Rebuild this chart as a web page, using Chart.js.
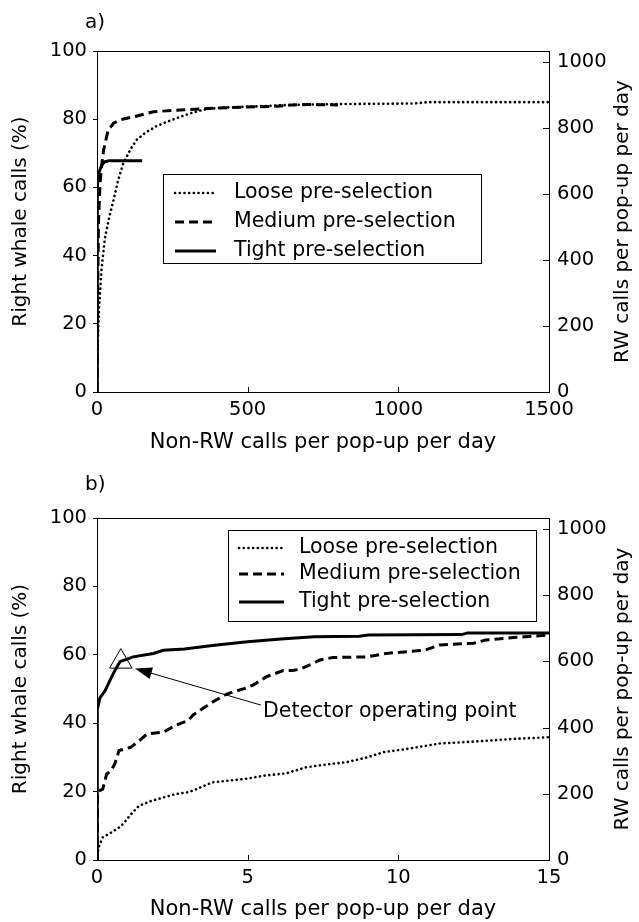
<!DOCTYPE html>
<html>
<head>
<meta charset="utf-8">
<script src="https://cdn.jsdelivr.net/npm/chart.js@4.4.1/dist/chart.umd.min.js"></script>
<style>
  html, body { margin: 0; padding: 0; background: #fff; }
  .panel { position: relative; width: 639px; height: 461px; }
  canvas { display: block; }
</style>
</head>
<body>
<div class="panel"><canvas id="panelA" width="639" height="461"></canvas></div>
<div class="panel"><canvas id="panelB" width="639" height="461"></canvas></div>
<script>
const FONT = '"DejaVu Sans", sans-serif';
const seriesLabels = ['Loose pre-selection', 'Medium pre-selection', 'Tight pre-selection'];

// panel a: [non-RW calls per pop-up per day, right whale calls %]
const looseA = [[0,0],[1,8],[3,16],[7,25],[15,36],[26,45],[40,51],[54,56],[70,62],[87,67],[110,71],[132,74],[160,76],[198,78],[240,79.5],[276,80.7],[320,82],[364,83],[420,83.4],[475,83.6],[540,83.8],[608,84.1],[700,84.3],[762,84.4],[900,84.5],[1050,84.6],[1100,85],[1500,85]];
const mediumA = [[0,0],[1,20],[5,50],[10,61],[15,66],[22,71],[37,76.8],[55,78.8],[76,79.8],[121,80.7],[187,82.2],[276,82.7],[387,83.2],[498,83.6],[600,83.8],[650,84.2],[700,84.3],[800,84.2]];
const tightA = [[0,0],[0.1,47],[0.8,58],[2,60],[5,64],[15,66.4],[25,67.5],[40,67.8],[150,67.8]];

// panel b: zoom on 0-15 non-RW calls
const looseB = [[0,0],[0.05,3.6],[0.19,6.6],[0.46,8],[0.73,9.5],[0.86,10.5],[1.13,13.4],[1.4,15.9],[1.81,17.3],[2.21,18.3],[2.62,19.3],[3.02,19.8],[3.29,20.7],[3.83,22.7],[4.37,23.2],[4.91,23.7],[5.58,24.7],[6.26,25.3],[6.93,27.1],[7.6,27.9],[8.28,28.6],[8.96,30],[9.5,31.5],[10.3,32.5],[11,33.5],[11.4,34.1],[12.06,34.4],[13,34.9],[13.8,35.4],[15,35.9]];
const mediumB = [[0,0],[0.02,20],[0.19,20.7],[0.32,25.1],[0.46,26.1],[0.59,28.1],[0.73,32],[1.13,33],[1.4,34.9],[1.67,36.9],[2.21,37.4],[2.64,39.5],[3.02,40.8],[3.2,42.5],[3.86,46.3],[4.3,48.5],[4.91,50.2],[5.19,51.2],[5.63,53.6],[6.18,55.4],[6.5,55.4],[6.74,55.8],[7.18,57.5],[7.4,58.5],[7.83,59.2],[8.95,59.4],[9.6,60.4],[10.9,61.4],[11.38,62.9],[12.5,63.4],[12.9,64.3],[13.93,65.1],[15,65.8]];
const tightB = [[0,0],[0.01,44],[0.1,47.5],[0.27,49.5],[0.43,52.5],[0.6,55.5],[0.76,58],[1.2,59.4],[1.87,60.4],[2.2,61.3],[2.9,61.7],[3.9,62.8],[5,63.8],[6.1,64.6],[7.2,65.3],[8.7,65.4],[9,65.8],[12.1,65.9],[12.3,66.4],[15,66.4]];

const operatingPoint = [0.79, 58];
const arrowTip = [1.26, 56];
const arrowTail = [5.44, 45.3];
const annotationAt = [5.51, 43.3];
const annotationText = 'Detector operating point';

const xTicksA = [0, 500, 1000, 1500];
const xTicksB = [0, 5, 10, 15];
const yTicks = [0, 20, 40, 60, 80, 100];
const rwTicks = [0, 200, 400, 600, 800, 1000];
const rwTotal = 1033; // RW calls per pop-up per day at 100 %

const lineStyles = [
    { borderDash: [0.1, 4.6], borderWidth: 2.6, borderCapStyle: 'round' },
    { borderDash: [9, 5], borderWidth: 3, borderCapStyle: 'butt' },
    { borderDash: [], borderWidth: 3, borderCapStyle: 'butt' }
];

Chart.defaults.font.family = FONT;
Chart.defaults.color = '#000';

function makeDatasets(series) {
    return series.map((pts, i) => ({
        label: seriesLabels[i],
        data: pts.map(([x, y]) => ({ x, y })),
        borderColor: '#000',
        pointRadius: 0,
        fill: false,
        tension: 0,
        ...lineStyles[i]
    }));
}

const setTicks = values => s => { s.ticks = values.map(v => ({ value: v })); };
const plainLabel = v => String(v);

const decorPlugin = {
    id: 'decor',
    afterDraw(chart, args, opts) {
        const { ctx, chartArea: ca, scales } = chart;
        ctx.save();
        ctx.strokeStyle = '#000';
        ctx.fillStyle = '#000';
        ctx.lineWidth = 1;

        // top of the frame
        const top = Math.round(ca.top) + 0.5;
        ctx.beginPath();
        ctx.moveTo(ca.left, top);
        ctx.lineTo(ca.right, top);
        ctx.stroke();

        // inward ticks on bottom and right axes
        ctx.beginPath();
        scales.x.ticks.forEach(t => {
            const px = Math.round(scales.x.getPixelForValue(t.value)) + 0.5;
            ctx.moveTo(px, ca.bottom);
            ctx.lineTo(px, ca.bottom - 5);
        });
        scales.y2.ticks.forEach(t => {
            const py = Math.round(scales.y2.getPixelForValue(t.value)) + 0.5;
            ctx.moveTo(ca.right, py);
            ctx.lineTo(ca.right - 6, py);
        });
        ctx.stroke();

        // right axis title, reading bottom to top
        ctx.font = '20px ' + FONT;
        ctx.textAlign = 'center';
        ctx.textBaseline = 'middle';
        ctx.save();
        ctx.translate(opts.rightTitleX, (ca.top + ca.bottom) / 2);
        ctx.rotate(-Math.PI / 2);
        ctx.fillText('RW calls per pop-up per day', 0, 0);
        ctx.restore();

        // panel letter
        ctx.textAlign = 'left';
        ctx.fillText(opts.panel, 85, opts.panelY);

        // legend box
        const lg = opts.legend;
        ctx.fillStyle = '#fff';
        ctx.fillRect(lg.left, lg.top, lg.width, lg.height);
        ctx.strokeRect(lg.left + 0.5, lg.top + 0.5, lg.width, lg.height);
        ctx.fillStyle = '#000';
        ctx.font = '20.5px ' + FONT;
        seriesLabels.forEach((label, i) => {
            const ds = chart.data.datasets[i];
            const y = lg.top + lg.rows[i];
            ctx.save();
            ctx.lineWidth = ds.borderWidth;
            ctx.lineCap = ds.borderCapStyle;
            ctx.setLineDash(ds.borderDash);
            ctx.beginPath();
            ctx.moveTo(lg.left + lg.sample[0], y);
            ctx.lineTo(lg.left + lg.sample[1], y);
            ctx.stroke();
            ctx.restore();
            ctx.fillText(label, lg.left + lg.textX, y);
        });

        // operating point annotation
        const an = opts.annotation;
        if (an) {
            const xs = scales.x, ys = scales.y;
            const tx = xs.getPixelForValue(an.tip[0]), ty = ys.getPixelForValue(an.tip[1]);
            const sx = xs.getPixelForValue(an.tail[0]), sy = ys.getPixelForValue(an.tail[1]);
            const ang = Math.atan2(ty - sy, tx - sx);
            const L = 17, W = 6;
            ctx.beginPath();
            ctx.moveTo(sx, sy);
            ctx.lineTo(tx - 10 * Math.cos(ang), ty - 10 * Math.sin(ang));
            ctx.stroke();
            ctx.beginPath();
            ctx.moveTo(tx, ty);
            ctx.lineTo(tx - L * Math.cos(ang) + W * Math.sin(ang), ty - L * Math.sin(ang) - W * Math.cos(ang));
            ctx.lineTo(tx - L * Math.cos(ang) - W * Math.sin(ang), ty - L * Math.sin(ang) + W * Math.cos(ang));
            ctx.closePath();
            ctx.fill();
            ctx.textAlign = 'left';
            ctx.fillText(an.text, xs.getPixelForValue(an.at[0]), ys.getPixelForValue(an.at[1]));
        }
        ctx.restore();
    }
};

function makeChart(id, cfg) {
    return new Chart(document.getElementById(id), {
        type: 'line',
        data: { datasets: cfg.datasets },
        options: {
            responsive: false,
            devicePixelRatio: 1,
            animation: false,
            layout: { padding: { top: cfg.padTop, left: 0, right: 0, bottom: 0 } },
            plugins: {
                legend: { display: false },
                tooltip: { enabled: false },
                decor: cfg.decor
            },
            scales: {
                x: {
                    type: 'linear',
                    min: 0,
                    max: cfg.xTicks[cfg.xTicks.length - 1],
                    afterBuildTicks: setTicks(cfg.xTicks),
                    ticks: { padding: 6, maxRotation: 0, font: { size: 19.5 }, color: '#000', callback: plainLabel },
                    grid: { drawOnChartArea: false, drawTicks: false },
                    border: { color: '#000' },
                    title: {
                        display: true,
                        text: 'Non-RW calls per pop-up per day',
                        font: { size: 21 },
                        color: '#000',
                        padding: { top: 0, bottom: cfg.xTitlePad }
                    },
                    afterFit: s => { s.height = cfg.xHeight; }
                },
                y: {
                    position: 'left',
                    min: 0,
                    max: 100,
                    afterBuildTicks: setTicks(yTicks),
                    ticks: { padding: 6, font: { size: 19.5 }, color: '#000', callback: plainLabel },
                    grid: { drawOnChartArea: false, tickLength: 4, color: '#000' },
                    border: { color: '#000' },
                    title: {
                        display: true,
                        text: 'Right whale calls (%)',
                        font: { size: 20 },
                        color: '#000',
                        padding: { top: 9, bottom: 0 }
                    },
                    afterFit: s => { s.width = 97; }
                },
                y2: {
                    position: 'right',
                    min: 0,
                    max: rwTotal,
                    afterBuildTicks: setTicks(rwTicks),
                    ticks: { padding: 8, font: { size: 19.5 }, color: '#000', callback: plainLabel },
                    grid: { drawOnChartArea: false, drawTicks: false },
                    border: { color: '#000' },
                    afterFit: s => { s.width = 90; }
                }
            }
        },
        plugins: [decorPlugin]
    });
}

makeChart('panelA', {
    datasets: makeDatasets([looseA, mediumA, tightA]),
    xTicks: xTicksA,
    padTop: 51,
    xHeight: 69,
    xTitlePad: 6,
    decor: {
        panel: 'a)',
        panelY: 23,
        rightTitleX: 623,
        legend: { left: 163, top: 174, width: 318, height: 89, rows: [19, 48, 77], sample: [12, 53], textX: 71 }
    }
});

const datasetsB = makeDatasets([looseB, mediumB, tightB]);
datasetsB.push({
    label: 'Detector operating point',
    data: [{ x: operatingPoint[0], y: operatingPoint[1] }],
    showLine: false,
    pointStyle: 'triangle',
    pointRadius: 13,
    pointBorderWidth: 1,
    pointBorderColor: '#000',
    pointBackgroundColor: 'rgba(0,0,0,0)'
});

makeChart('panelB', {
    datasets: datasetsB,
    xTicks: xTicksB,
    padTop: 57,
    xHeight: 62,
    xTitlePad: 0,
    decor: {
        panel: 'b)',
        panelY: 24,
        rightTitleX: 623,
        legend: { left: 228, top: 69, width: 308, height: 91, rows: [18, 44, 72], sample: [11, 56], textX: 71 },
        annotation: { tip: arrowTip, tail: arrowTail, at: annotationAt, text: annotationText }
    }
});
</script>
</body>
</html>
